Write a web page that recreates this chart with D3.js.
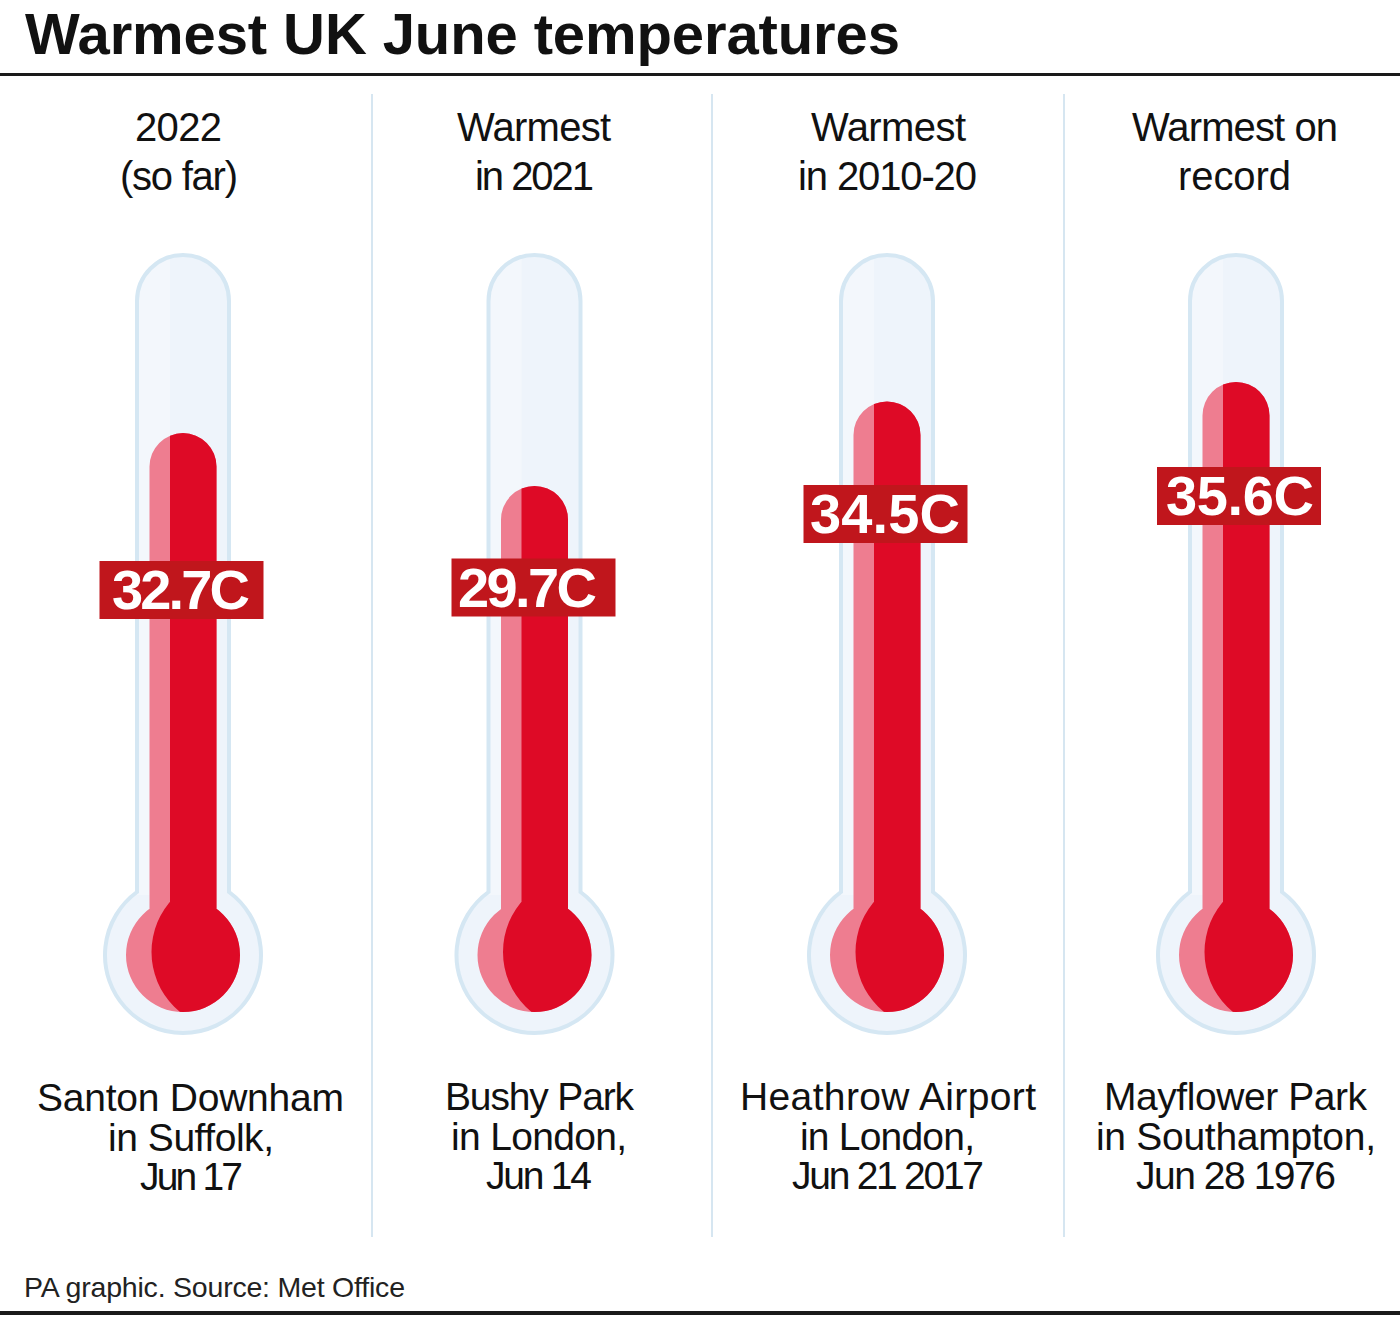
<!DOCTYPE html>
<html><head><meta charset="utf-8">
<script src="https://cdn.jsdelivr.net/npm/d3@7"></script>
<style>html,body{margin:0;padding:0;background:#fff}svg{display:block}text{font-family:"Liberation Sans",Arial,sans-serif}</style>
</head><body><div id="chart"></div>
<script>
const titleText = "Warmest UK June temperatures";
const sourceText = "PA graphic. Source: Met Office";
const headers = [["2022","(so far)"],["Warmest","in 2021"],["Warmest","in 2010-20"],["Warmest on","record"]];
const temperatures = [32.7, 29.7, 34.5, 35.6];
const valueLabels = ["32.7C","29.7C","34.5C","35.6C"];
const places = [["Santon Downham","in Suffolk,","Jun 17"],["Bushy Park","in London,","Jun 14"],["Heathrow Airport","in London,","Jun 21 2017"],["Mayflower Park","in Southampton,","Jun 28 1976"]];

const W = 1400, H = 1317;
const centers = [183, 534.5, 887, 1236];
const headerSpans = [[[135,222],[120,238]],[[457,611],[475,594]],[[811,966],[798,977]],[[1132,1338],[1178,1291]]];
const placeSpans = [[[37,344],[108,274],[140,243]],[[445,634],[451,627],[486,592]],[[740,1036],[800,975],[792,984]],[[1104,1367],[1096,1376],[1136,1336]]];
const valueSpans = [[112,250],[458,597],[810,960],[1166,1314]];
const boxX = [181.5, 533.5, 885.5, 1239];
const boxY = [590, 587.5, 514, 496];
const dividers = [372, 712, 1064];
const y = d3.scaleLinear().domain([29.7, 35.6]).range([486, 382]);

const svg = d3.select("#chart").append("svg").attr("width", W).attr("height", H).attr("viewBox", `0 0 ${W} ${H}`);
const defs = svg.append("defs");

function fitted(sel, span) {
  return sel.attr("x", span[0]).attr("textLength", span[1] - span[0]).attr("lengthAdjust", "spacing");
}

fitted(svg.append("text"), [25, 900]).attr("y", 54).attr("font-size", 58).attr("font-weight", 700)
  .attr("fill", "#111").text(titleText);
svg.append("rect").attr("x", 0).attr("y", 73).attr("width", W).attr("height", 3).attr("fill", "#1a1a1a");
svg.append("rect").attr("x", 0).attr("y", 1311).attr("width", W).attr("height", 4).attr("fill", "#1a1a1a");
fitted(svg.append("text"), [24, 405]).attr("y", 1297).attr("font-size", 28.5).attr("fill", "#222").text(sourceText);

svg.selectAll("line.div").data(dividers).join("line").attr("class", "div")
  .attr("x1", d => d).attr("x2", d => d).attr("y1", 94).attr("y2", 1237)
  .attr("stroke", "#d6e6f1").attr("stroke-width", 2);

const bulbY = 955, glassHalf = 46, glassR = 78, redHalf = 33.5, redR = 57, glassTop = 255;

function glassPath(c) {
  const p = d3.path();
  const j = bulbY - Math.sqrt(glassR * glassR - glassHalf * glassHalf);
  const a = Math.atan2(j - bulbY, glassHalf);
  p.moveTo(c - glassHalf, j);
  p.lineTo(c - glassHalf, glassTop + glassHalf);
  p.arc(c, glassTop + glassHalf, glassHalf, Math.PI, 2 * Math.PI);
  p.lineTo(c + glassHalf, j);
  p.arc(c, bulbY, glassR, a, Math.PI - a);
  p.closePath();
  return p.toString();
}
function redPath(c, top) {
  const p = d3.path();
  p.moveTo(c - redHalf, bulbY);
  p.lineTo(c - redHalf, top + redHalf);
  p.arc(c, top + redHalf, redHalf, Math.PI, 2 * Math.PI);
  p.lineTo(c + redHalf, bulbY);
  p.closePath();
  p.moveTo(c + redR, bulbY);
  p.arc(c, bulbY, redR, 0, 2 * Math.PI);
  p.closePath();
  return p.toString();
}

temperatures.forEach((v, i) => {
  const c = centers[i], top = y(v);
  const g = svg.append("g");
  const cg = defs.append("clipPath").attr("id", "glass" + i);
  cg.append("path").attr("d", glassPath(c));
  g.append("path").attr("d", glassPath(c)).attr("fill", "#eef4fb");
  g.append("rect").attr("clip-path", `url(#glass${i})`).attr("x", c - glassHalf).attr("y", glassTop)
    .attr("width", 33).attr("height", 640).attr("fill", "#f3f7fc");
  g.append("path").attr("d", glassPath(c)).attr("fill", "none").attr("stroke", "#d5e7f3").attr("stroke-width", 4);

  const cr = defs.append("clipPath").attr("id", "dark" + i);
  const darkP = d3.path();
  darkP.rect(c - 13, 300, 160, bulbY - 300);
  darkP.moveTo(c + 46 + 77.5, bulbY - 3);
  darkP.arc(c + 46, bulbY - 3, 77.5, 0, 2 * Math.PI);
  cr.append("path").attr("d", darkP.toString());
  g.append("path").attr("d", redPath(c, top)).attr("fill", "#ee7d90");
  g.append("path").attr("d", redPath(c, top)).attr("fill", "#de0a26").attr("clip-path", `url(#dark${i})`);

  g.append("rect").attr("x", boxX[i] - 82).attr("y", boxY[i] - 29).attr("width", 164).attr("height", 58).attr("fill", "#c0161c");
  fitted(g.append("text"), valueSpans[i]).attr("y", boxY[i] + 19)
    .attr("font-size", 56).attr("font-weight", 700).attr("fill", "#fff").text(valueLabels[i]);

  headers[i].forEach((t, k) => fitted(g.append("text"), headerSpans[i][k]).attr("y", 141 + k * 49)
    .attr("font-size", 40).attr("fill", "#111").text(t));
  places[i].forEach((t, k) => fitted(g.append("text"), placeSpans[i][k]).attr("y", (i === 0 ? 1111 : 1110) + k * 39.7)
    .attr("font-size", 39).attr("fill", "#111").text(t));
});
</script></body></html>
